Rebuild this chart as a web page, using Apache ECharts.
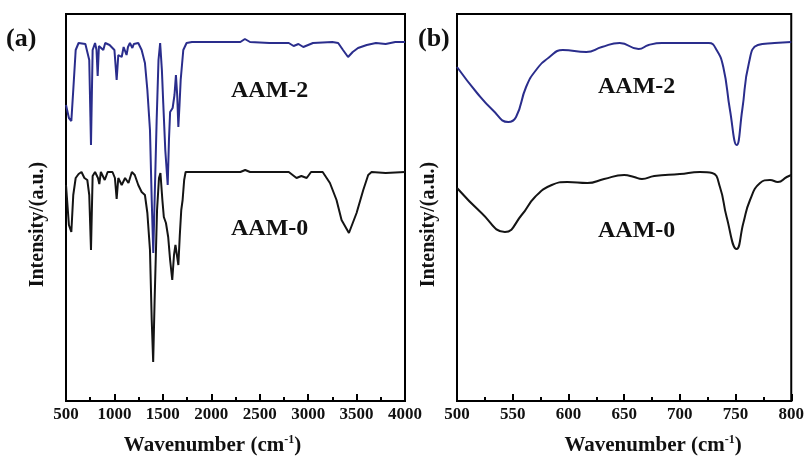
<!DOCTYPE html>
<html>
<head>
<meta charset="utf-8">
<script src="https://cdn.jsdelivr.net/npm/echarts@6/dist/echarts.min.js"></script>
<style>
  html, body { margin: 0; padding: 0; background: #fff; }
  #chart { width: 807px; height: 464px; }
</style>
</head>
<body>
<div id="chart"></div>
<script>
// panel (a): full range 500-4000
var wnA2 = [500,530,555,575,600,630,700,740,758,775,800,815,827,840,860,885,905,950,1000,1023,1040,1075,1095,1110,1125,1140,1160,1185,1200,1246,1281,1315,1340,1367,1385,1401,1415,1436,1455,1472,1490,1504,1525,1550,1563,1575,1601,1620,1635,1648,1660,1672,1684,1711,1745,1800,2000,2200,2300,2347,2400,2600,2800,2850,2900,2950,3000,3050,3250,3310,3360,3412,3460,3515,3605,3700,3800,3900,4000];
var aam2A = [296,283,280,311,351,358,357,341,256,351,358,351,325,355,357,351,358,356,351,321,346,344,354,353,346,354,358,353,357,358,351,338,311,271,201,148,201,281,341,358,331,298,251,216,261,289,293,306,326,306,274,296,321,351,358,359,359,359,359,362,359,358,358,355,357,354,356,358,359,358,351,344,349,353,356,358,357,359,359];

var wnA0 = [500,530,555,575,600,630,660,690,720,740,758,775,800,830,844,860,900,930,980,1005,1023,1040,1075,1110,1145,1180,1210,1246,1281,1315,1340,1367,1385,1400,1415,1440,1460,1475,1495,1510,1532,1555,1575,1597,1615,1630,1645,1660,1675,1690,1704,1720,1735,1800,2000,2300,2350,2400,2800,2880,2930,2985,3030,3150,3225,3293,3345,3421,3500,3569,3620,3655,3800,4000];
var aam0A = [216,176,169,206,223,227,229,223,221,206,151,225,229,223,217,229,221,229,229,223,202,223,216,223,218,229,226,216,209,206,188,151,81,39,101,191,223,228,201,184,178,164,141,121,146,156,156,136,166,191,201,221,229,229,229,229,231,229,229,223,225,223,229,229,218,201,181,168,188,211,226,229,228,229];

// panel (b): zoom 500-800
var wnB2 = [500,518,532,546,553,562,571,583,595,616,630,646,663,672,684,726,733,739,745,751,756,762,770,785,800];
var aam2B = [334,308,291,279,284,314,331,344,351,349,354,358,352,356,358,358,351,334,291,256,291,338,356,358,359];

var wnB0 = [500,522,543,558,570,585,599,617,632,650,659,666,677,700,718,729,736,742,751,757,763,772,781,788,796,800];
var aam0B = [213,188,169,186,204,216,219,218,222,226,224,222,225,227,229,228,214,184,152,178,201,218,221,219,224,226];

var ticksA = [500, 4000, 500];
var ticksB = [500, 800, 50];

function zip(xs, ys) {
  return xs.map(function (x, i) { return [x, ys[i]]; });
}

var serif = "'Liberation Serif', 'Times New Roman', 'DejaVu Serif', serif";
var navy = '#2a2d8c';
var ink = '#141414';

function xAxisOf(idx, t, pad) {
  return {
    type: 'value', gridIndex: idx, min: t[0], max: t[1], interval: t[2],
    name: '{m|Wavenumber (cm}{s|-1}{m|)}',
    nameLocation: 'middle', nameGap: 33,
    nameTextStyle: {
      padding: pad,
      rich: {
        m: { fontFamily: serif, fontWeight: 'bold', fontSize: 21, color: '#111', lineHeight: 24 },
        s: { fontFamily: serif, fontWeight: 'bold', fontSize: 12, color: '#111', lineHeight: 12, verticalAlign: 'top' }
      }
    },
    axisLine: { lineStyle: { color: '#000', width: 2 } },
    axisTick: { show: true, inside: true, length: 7, lineStyle: { color: '#000', width: 2 } },
    minorTick: { show: true, splitNumber: 2, length: 4, lineStyle: { color: '#000', width: 2 } },
    axisLabel: {
      margin: 5, fontFamily: serif, fontWeight: 'bold', fontSize: 17, color: '#111',
      formatter: function (v) { return String(v); }
    },
    splitLine: { show: false }
  };
}

function yAxisOf(idx) {
  return {
    type: 'value', gridIndex: idx, min: 0, max: 387,
    name: 'Intensity/(a.u.)', nameLocation: 'middle', nameRotate: 90, nameGap: 18,
    nameTextStyle: { fontFamily: serif, fontWeight: 'bold', fontSize: 20, color: '#111', padding: [0, 34, 0, 0] },
    axisLine: { show: false }, axisTick: { show: false }, axisLabel: { show: false },
    splitLine: { show: false }
  };
}

function lineOf(idx, data, color, smooth) {
  return {
    type: 'line', xAxisIndex: idx, yAxisIndex: idx, data: data,
    showSymbol: false, smooth: smooth,
    lineStyle: { color: color, width: 2 }
  };
}

function tag(text, x, y, size) {
  return {
    type: 'text', left: x, top: y,
    style: { text: text, fontFamily: serif, fontWeight: 'bold', fontSize: size, fill: '#111' }
  };
}

var chart = echarts.init(document.getElementById('chart'));
chart.setOption({
  animation: false,
  grid: [
    { left: 66, top: 14, width: 339, height: 387, show: true, borderColor: '#000', borderWidth: 2 },
    { left: 457, top: 14, width: 336, height: 387, show: true, borderColor: '#000', borderWidth: 2 }
  ],
  xAxis: [xAxisOf(0, ticksA, [0, 46, 0, 0]), xAxisOf(1, ticksB, [0, 0, 0, 58])],
  yAxis: [yAxisOf(0), yAxisOf(1)],
  series: [
    lineOf(0, zip(wnA0, aam0A), ink, false),
    lineOf(0, zip(wnA2, aam2A), navy, false),
    lineOf(1, zip(wnB0, aam0B), ink, 0.5),
    lineOf(1, zip(wnB2, aam2B), navy, 0.5)
  ],
  graphic: [
    tag('(a)', 6, 26, 26),
    tag('(b)', 418, 26, 26),
    tag('AAM-2', 231, 79, 24),
    tag('AAM-0', 231, 217, 24),
    tag('AAM-2', 598, 75, 24),
    tag('AAM-0', 598, 219, 24)
  ]
});
</script>
</body>
</html>
